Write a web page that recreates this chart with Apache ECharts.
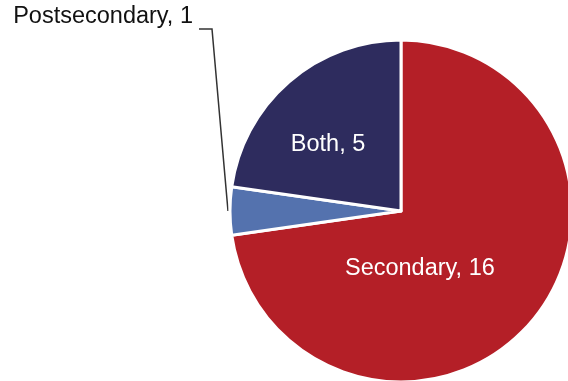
<!DOCTYPE html>
<html>
<head>
<meta charset="utf-8">
<script src="https://cdn.jsdelivr.net/npm/echarts@6/dist/echarts.min.js"></script>
<style>
  html, body { margin: 0; padding: 0; background: #fff; }
  #chart { width: 568px; height: 381px; }
</style>
</head>
<body>
<div id="chart"></div>
<script>
// Program type breakdown
const categories = ['Secondary', 'Postsecondary', 'Both'];
const values = [16, 1, 5];
const colors = ['#B41F27', '#5472AE', '#2E2C5E'];

const chart = echarts.init(document.getElementById('chart'), null, { renderer: 'canvas' });

const data = categories.map((name, i) => ({
  name: name,
  value: values[i],
  itemStyle: { color: colors[i] },
  label: name === 'Postsecondary'
    ? { position: 'outside', color: '#111' }
    : { position: 'inside', color: '#fff' },
  labelLine: { show: name === 'Postsecondary' }
}));

chart.setOption({
  animation: false,
  backgroundColor: '#fff',
  series: [{
    type: 'pie',
    center: [401, 211],
    radius: 171,
    startAngle: 90,
    clockwise: true,
    avoidLabelOverlap: false,
    itemStyle: { borderColor: '#fff', borderWidth: 3 },
    label: {
      show: true,
      formatter: '{b}, {c}',
      fontFamily: 'Liberation Sans, Arial, sans-serif',
      fontSize: 23.5
    },
    labelLine: {
      show: true,
      lineStyle: { color: '#333', width: 1.5 }
    },
    labelLayout: function (p) {
      if (p.dataIndex === 2) return { dx: -15, dy: 0 };
      if (p.dataIndex === 0) return { dx: -48, dy: 0 };
      if (p.dataIndex === 1) {
        // callout placed above-left of the thin slice, elbow leader line
        const r = p.labelRect;
        const s = p.labelLinePoints ? p.labelLinePoints[0] : [229, 211];
        return {
          dx: 193 - (r.x + r.width),
          dy: 17 - (r.y + r.height / 2),
          labelLinePoints: [[s[0] - 2, s[1]], [212, 29], [199, 29]]
        };
      }
      return {};
    },
    emphasis: { disabled: true },
    data: data
  }]
});
</script>
</body>
</html>
